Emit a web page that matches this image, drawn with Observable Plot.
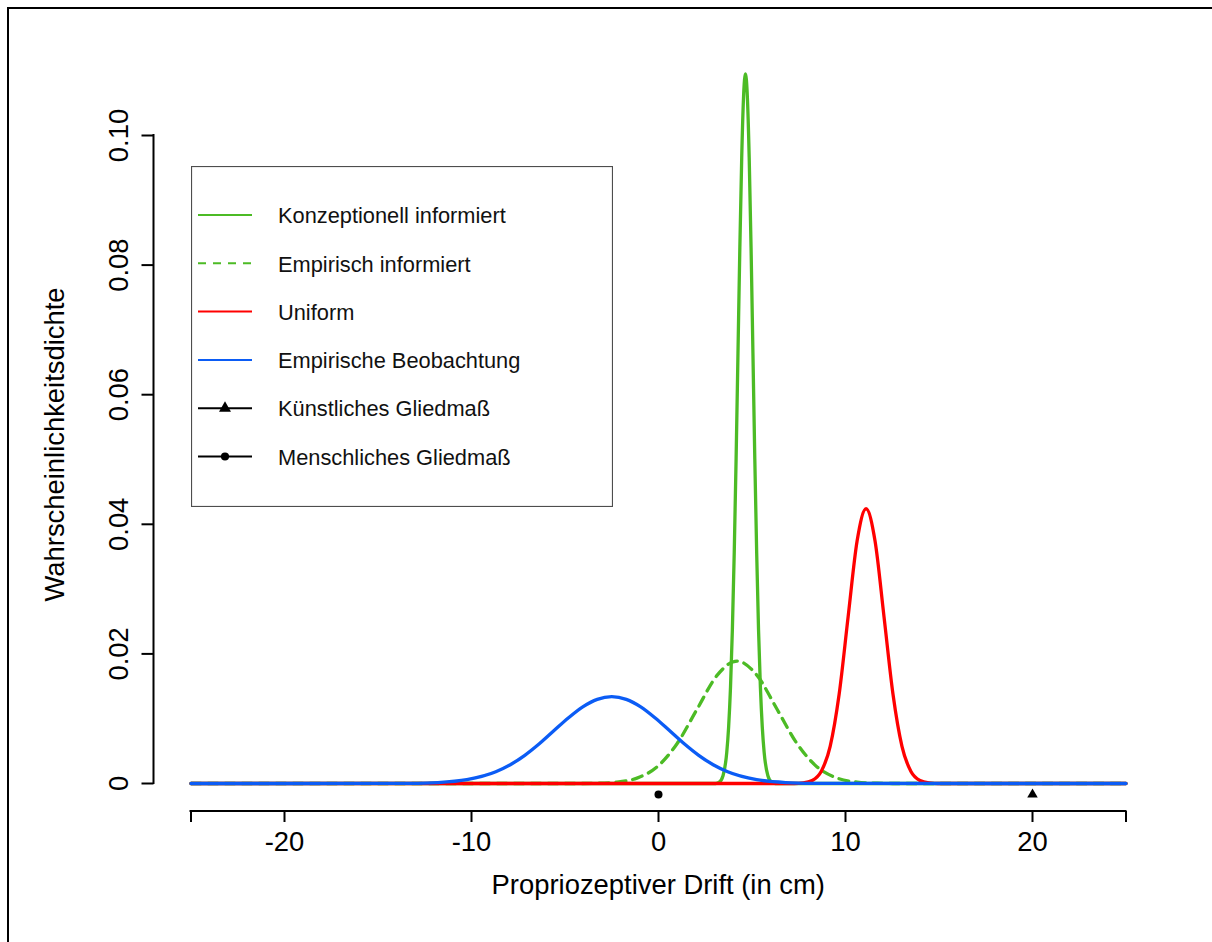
<!DOCTYPE html>
<html>
<head>
<meta charset="utf-8">
<script src="https://cdn.jsdelivr.net/npm/d3@7"></script>
<script src="https://cdn.jsdelivr.net/npm/@observablehq/plot@0.6"></script>
<style>
html, body { margin: 0; padding: 0; background: #fff; }
#wrap { position: relative; width: 1212px; height: 942px; overflow: hidden; font-family: "Liberation Sans", Arial, Helvetica, sans-serif; }
#chart { position: absolute; left: 0; top: 0; }
#border { position: absolute; left: 7px; top: 7px; right: -5px; bottom: -5px; border-top: 2px solid #000; border-left: 2px solid #000; pointer-events: none; }
#legend { position: absolute; left: 191px; top: 166px; }
</style>
</head>
<body>
<div id="wrap"><div id="chart"></div><div id="border"></div><div id="legend"></div></div>
<script>
// ---- Data ----
// Konzeptionell informiert (green, solid)
const konzX = [-25, 3.05, 3.25, 3.45, 3.65, 3.75, 3.85, 3.95, 4.05, 4.15, 4.25, 4.35, 4.45, 4.55, 4.65, 4.75, 4.85, 4.95, 5.05, 5.15, 5.25, 5.35, 5.45, 5.55, 5.65, 5.85, 6.05, 6.25, 25];
const konzY = [0, 0, 0.0002, 0.0012, 0.0048, 0.0087, 0.0148, 0.0237, 0.0356, 0.0501, 0.0664, 0.0827, 0.0966, 0.1061, 0.1095, 0.1061, 0.0966, 0.0827, 0.0664, 0.0501, 0.0356, 0.0237, 0.0148, 0.0087, 0.0048, 0.0012, 0.0002, 0, 0];
// Empirisch informiert (green, dashed)
const empX = [-25, -4.28, -3.29, -2.22, -1.15, -0.08, 0.99, 2.06, 3.13, 4.2, 5.27, 6.34, 7.41, 8.48, 9.55, 10.62, 11.69, 12.76, 25];
const empY = [0, 0, 0.00004, 0.00021, 0.00083, 0.00256, 0.00614, 0.01146, 0.01668, 0.0189, 0.01668, 0.01146, 0.00614, 0.00256, 0.00083, 0.00021, 0.00004, 0, 0];
// Uniform (red)
const uniX = [-25, 7.26, 7.74, 8.22, 8.70, 9.18, 9.66, 10.14, 10.62, 11.10, 11.58, 12.06, 12.54, 13.02, 13.50, 13.98, 14.46, 14.94, 25];
const uniY = [0, 0, 0.00009, 0.00047, 0.00186, 0.00574, 0.01377, 0.02572, 0.03742, 0.0424, 0.03742, 0.02572, 0.01377, 0.00574, 0.00186, 0.00047, 0.00009, 0, 0];
// Empirische Beobachtung (blue)
const beoX = [-25, -14.9, -13.35, -11.8, -10.25, -8.7, -7.925, -7.15, -6.375, -5.6, -4.825, -4.05, -3.275, -2.5, -1.725, -0.95, -0.175, 0.6, 1.375, 2.15, 2.925, 3.7, 5.25, 6.8, 8.35, 9.9, 25];
const beoY = [0, 0.000005, 0.00003, 0.00015, 0.00059, 0.00181, 0.0029, 0.00435, 0.00613, 0.00813, 0.01011, 0.01183, 0.01299, 0.0134, 0.01299, 0.01183, 0.01011, 0.00813, 0.00613, 0.00435, 0.0029, 0.00181, 0.00059, 0.00015, 0.00003, 0.000005, 0];
// Limb positions (markers under the baseline)
const limbNames = ["Künstliches Gliedmaß", "Menschliches Gliedmaß"];
const limbX = [20, 0];
const limbY = [-0.0017, -0.0017];
const limbSymbols = ["triangle", "circle"];

// Ticks and labels
const xTickPositions = [-25, -20, -10, 0, 10, 20, 25];
const xTickLabeled = [-20, -10, 0, 10, 20];
const yTicks = [0, 0.02, 0.04, 0.06, 0.08, 0.10];
const yTickLabels = ["0", "0.02", "0.04", "0.06", "0.08", "0.10"];
const xTitle = "Propriozeptiver Drift (in cm)";
const yTitle = "Wahrscheinlichkeitsdichte";

// Legend
const legendLabels = ["Konzeptionell informiert", "Empirisch informiert", "Uniform", "Empirische Beobachtung", "Künstliches Gliedmaß", "Menschliches Gliedmaß"];
const legendColors = ["#4cbb25", "#4cbb25", "#ff0000", "#0b5cf5", "#000000", "#000000"];
const legendDash = [null, "10,7", null, null, null, null];
const legendSymbol = [null, null, null, null, "triangle", "circle"];

// ---- Build ----
const toRows = (xs, ys) => xs.map((x, i) => ({x, y: ys[i]}));
const konz = toRows(konzX, konzY);
const emp = toRows(empX, empY);
const uni = toRows(uniX, uniY);
const beo = toRows(beoX, beoY);
const limbs = limbX.map((x, i) => ({x, y: limbY[i], symbol: limbSymbols[i], name: limbNames[i]}));

const FONT = "'Liberation Sans', Arial, Helvetica, sans-serif";
const LINE_W = 3.3;

const axisLines = (index, scales, values, dimensions) => {
  const g = d3.create("svg:g").attr("stroke", "#000").attr("stroke-width", 2).attr("fill", "none").attr("stroke-linecap", "square");
  const yb = dimensions.height - dimensions.marginBottom;
  g.append("line")
    .attr("x1", scales.x(xTickPositions[0])).attr("x2", scales.x(xTickPositions[xTickPositions.length - 1]))
    .attr("y1", yb).attr("y2", yb);
  const xl = dimensions.marginLeft;
  g.append("line")
    .attr("x1", xl).attr("x2", xl)
    .attr("y1", scales.y(yTicks[0])).attr("y2", scales.y(yTicks[yTicks.length - 1]));
  return g.node();
};

const plot = Plot.plot({
  width: 1212,
  height: 942,
  marginLeft: 153.5,
  marginRight: 50,
  marginTop: 77,
  marginBottom: 131,
  x: {domain: [-25, 25], range: [190.5, 1125.5]},
  y: {domain: [0, 0.1], range: [783, 135]},
  style: {fontFamily: FONT, fontSize: "27.4px", color: "#000", background: "transparent", overflow: "visible"},
  marks: [
    Plot.line(konz, {x: "x", y: "y", stroke: legendColors[0], strokeWidth: LINE_W, curve: "monotone-x"}),
    Plot.line(emp, {x: "x", y: "y", stroke: legendColors[1], strokeWidth: LINE_W, strokeDasharray: legendDash[1], curve: "monotone-x"}),
    Plot.line(uni, {x: "x", y: "y", stroke: legendColors[2], strokeWidth: LINE_W, curve: "monotone-x"}),
    Plot.line(beo, {x: "x", y: "y", stroke: legendColors[3], strokeWidth: LINE_W, curve: "monotone-x"}),
    Plot.dot(limbs.filter(d => d.symbol === "triangle"), {x: "x", y: "y", symbol: "triangle", r: 3.9, fill: "#000", stroke: "none"}),
    Plot.dot(limbs.filter(d => d.symbol === "circle"), {x: "x", y: "y", symbol: "circle", r: 4, fill: "#000", stroke: "none"}),
    Plot.axisX({ticks: xTickPositions, tickFormat: d => xTickLabeled.includes(d) ? String(d) : "", tickSize: 11, tickPadding: 9.5, strokeWidth: 2, label: null, fill: "#000"}),
    Plot.axisY({ticks: yTicks, tickFormat: d => yTickLabels[yTicks.indexOf(d)], tickSize: 12, tickPadding: 14.5, tickRotate: -90, strokeWidth: 2, label: null, fill: "#000"}),
    axisLines,
    Plot.text([xTitle], {text: d => d, frameAnchor: "bottom", textAnchor: "middle", lineAnchor: "bottom", dy: 82, fill: "#000"}),
    Plot.text([yTitle], {text: d => d, frameAnchor: "left", textAnchor: "middle", rotate: -90, lineAnchor: "bottom", dx: -90.5, fill: "#000"})
  ]
});
document.getElementById("chart").appendChild(plot);

// Legend box
const LW = 422, LH = 341;
const lg = d3.select("#legend").append("svg").attr("width", LW).attr("height", LH)
  .style("font-family", FONT).style("font-size", "21.8px");
lg.append("rect").attr("x", 0.5).attr("y", 0.5).attr("width", LW - 1).attr("height", LH - 1)
  .attr("fill", "#fff").attr("stroke", "#4d4d4d").attr("stroke-width", 1.2);
legendLabels.forEach((label, i) => {
  const cy = 49 + i * 48.3;
  const row = lg.append("g");
  const ln = row.append("line").attr("x1", 7).attr("x2", 61).attr("y1", cy).attr("y2", cy)
    .attr("stroke", legendColors[i]).attr("stroke-width", 2);
  if (legendDash[i]) ln.attr("stroke-dasharray", "8,7");
  if (legendSymbol[i]) {
    const sym = legendSymbol[i] === "triangle" ? d3.symbolTriangle : d3.symbolCircle;
    const size = legendSymbol[i] === "triangle" ? 62 : 52;
    row.append("path").attr("d", d3.symbol(sym, size)()).attr("transform", `translate(34,${cy})`).attr("fill", "#000");
  }
  row.append("text").attr("x", 87).attr("y", cy).attr("dy", "0.38em").attr("fill", "#111").text(label);
});
</script>
</body>
</html>
